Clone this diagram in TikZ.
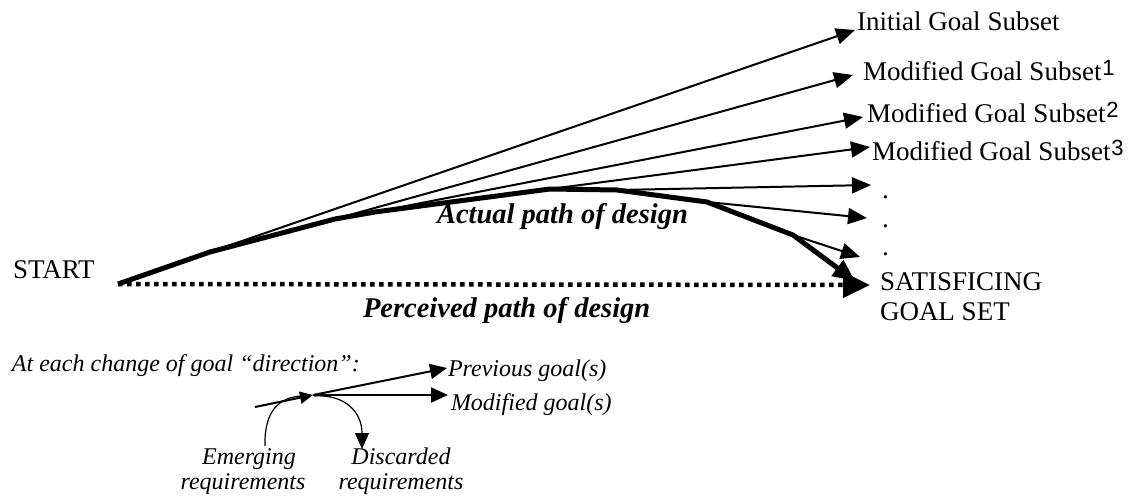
\documentclass[tikz,border=0pt]{standalone}
\usepackage{fontspec}
\setmainfont{Liberation Serif}
\newfontfamily\supfont{Liberation Sans}
\usetikzlibrary{arrows.meta}

% raised index after a goal subset name
\newcommand{\goalsup}[1]{\hspace{1pt}\raisebox{5pt}{\supfont\fontsize{22}{22}\selectfont #1}}

\begin{document}
\begin{tikzpicture}[x=1pt,y=-1pt,
  every node/.style={inner sep=0pt, outer sep=0pt},
  lbl/.style={font=\fontsize{27}{30}\selectfont, anchor=base west},
  pathlbl/.style={font=\fontsize{28.5}{32}\selectfont\bfseries\itshape, anchor=base west},
  note/.style={font=\fontsize{24}{25}\selectfont\itshape},
  fan/.style={line width=2pt, -{Triangle[length=19pt,width=16pt]}},
  actual/.style={line width=5pt, line join=round, -{Triangle[length=22pt,width=19pt]}},
  perceived/.style={line width=4.5pt, dash pattern=on 4.5pt off 4.5pt, -{Triangle[length=27pt,width=25pt]}},
  smallfan/.style={line width=2pt, -{Triangle[length=17pt,width=15pt]}},
  smallhead/.style={line width=2pt, -{Triangle[length=13pt,width=12pt]}},
  req/.style={line width=1.2pt},
  reqarrow/.style={line width=1.2pt, -{Triangle[length=16pt,width=14pt]}},
]
\useasboundingbox (0,0) rectangle (1139,495);

% ---- labels ----
\node[lbl] (start) at (13,278) {START};
\node[lbl] (g0) at (857,31) {Initial Goal Subset};
\node[lbl] (g1) at (863,80) {Modified Goal Subset\goalsup{1}};
\node[lbl] (g2) at (867,122) {Modified Goal Subset\goalsup{2}};
\node[lbl] (g3) at (872,160) {Modified Goal Subset\goalsup{3}};
\node[lbl] (d1) at (882,198) {.};
\node[lbl] (d2) at (882,227) {.};
\node[lbl] (d3) at (882,255) {.};
% anchor of a two-line node sits on its last line
\node[lbl, align=left] (final) at (880,320) {SATISFICING\\GOAL SET};
\node[pathlbl] (actual) at (437,223) {Actual path of design};
\node[pathlbl] (perceived) at (363,317) {Perceived path of design};

% ---- bends of the actual design path ----
\coordinate (p0) at (118,284);
\coordinate (p1) at (210,252);
\coordinate (p2) at (335,219);
\coordinate (p3) at (375,212);
\coordinate (p4) at (550,189);
\coordinate (p5) at (617,190);
\coordinate (p6) at (707,202);
\coordinate (p7) at (793,235);

% ---- arrow ends ----
\coordinate (t0) at (855,30);
\coordinate (t1) at (853,75);
\coordinate (t2) at (863,117);
\coordinate (t3) at (870,147);
\coordinate (t4) at (871,185);
\coordinate (t5) at (867,218);
\coordinate (t6) at (860,257);
\coordinate (tend) at (855,281);
\coordinate (tdot) at (870,285);

% goal directions leaving the path
\draw[fan] (p1) -- (t0);
\draw[fan] (p2) -- (t1);
\draw[fan] (p3) -- (t2);
\draw[fan] (p4) -- (t3);
\draw[fan] (p5) -- (t4);
\draw[fan] (p6) -- (t5);
\draw[fan] (p7) -- (t6);

% actual and perceived paths
\draw[actual] (p0) -- (p1) -- (p2) -- (p3) -- (p4) -- (p5) -- (p6) -- (p7) -- (tend);
\draw[perceived] (p0) -- (tdot);

% ---- legend ----
\node[note, anchor=base west] (hint) at (12,371) {At each change of goal “direction”:};
\node[note, anchor=base west] (prev) at (448,376) {Previous goal(s)};
\node[note, anchor=base west] (modg) at (451,410) {Modified goal(s)};
\node[note, align=center, anchor=base] (emerg) at (243,489) {\hspace*{12pt}Emerging\\requirements};
\node[note, align=center, anchor=base] (disc) at (401,489) {Discarded\\requirements};

\coordinate (s0) at (255,407);
\coordinate (s1) at (313,395);
\coordinate (prevtip) at (447,368);
\coordinate (modtip) at (448,395);
\coordinate (e0) at (265,446);
\coordinate (e1) at (302,396);
\coordinate (r0) at (314,396);
\coordinate (r1) at (362,449);

\draw[smallhead] (s0) -- (s1);
\draw[smallfan] (s1) -- (prevtip);
\draw[smallfan] (s1) -- (modtip);
\draw[req] (e0) .. controls (264,410) and (280,397) .. (e1);
\draw[reqarrow] (r0) .. controls (345,394) and (362,412) .. (r1);
\end{tikzpicture}
\end{document}
